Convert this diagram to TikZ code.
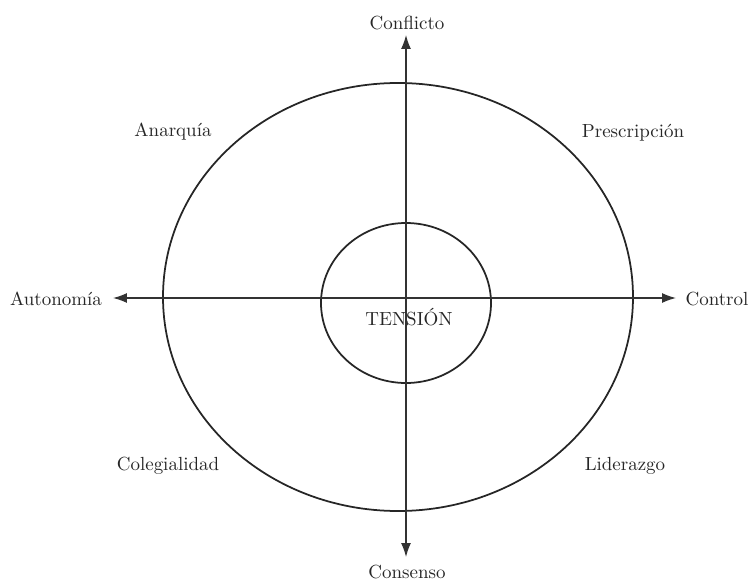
\documentclass[tikz,border=0pt]{standalone}
\usetikzlibrary{arrows.meta}

\begin{document}
\begin{tikzpicture}[
  x=0.02cm, y=-0.02cm,
  etiqueta/.style={font=\fontsize{10.8}{13}\selectfont, text=black!85, inner sep=1pt},
  eje/.style={draw=black!80, line width=0.7pt, {Latex[length=0.28cm, width=0.2cm]}-{Latex[length=0.28cm, width=0.2cm]}},
  anillo/.style={draw=black!85, line width=1pt}
]
  \useasboundingbox (0,0) rectangle (751,581);

  % extremos de los ejes
  \coordinate (arriba) at (406,35);
  \coordinate (abajo) at (406,557);
  \coordinate (izq) at (113,298);
  \coordinate (der) at (676,298);

  % Elipses
  \draw[anillo] (398,297) ellipse [x radius=235, y radius=214];
  \draw[anillo] (406,303) ellipse [x radius=85, y radius=80];

  % Ejes
  \draw[eje] (abajo) -- (arriba);
  \draw[eje] (izq) -- (der);

  % Etiquetas
  \node[etiqueta] (conflicto) at (407,23) {Conflicto};
  \node[etiqueta] (consenso) at (407,572) {Consenso};
  \node[etiqueta] (autonomia) at (56,299) {Autonomía};
  \node[etiqueta] (control) at (717,299) {Control};
  \node[etiqueta] (anarquia) at (173,132) {Anarquía};
  \node[etiqueta] (prescripcion) at (633,133) {Prescripción};
  \node[etiqueta] (colegialidad) at (168,466) {Colegialidad};
  \node[etiqueta] (liderazgo) at (625,466) {Liderazgo};
  \node[etiqueta] (tension) at (409,317) {TENSIÓN};
\end{tikzpicture}
\end{document}
